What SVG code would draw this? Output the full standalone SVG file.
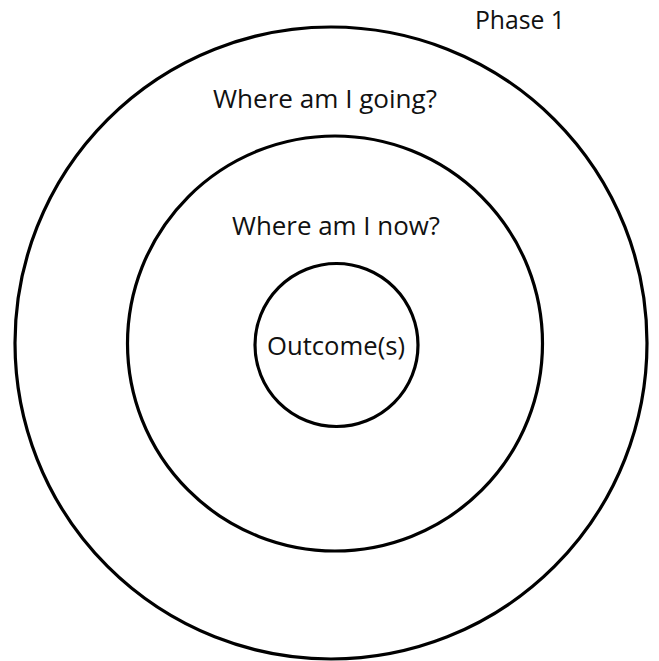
<svg xmlns="http://www.w3.org/2000/svg" width="659" height="661" viewBox="0 0 659 661">
<style>
.ring{fill:none;stroke:#000;stroke-width:3.2}
.lbl{font-family:"Open Sans","Liberation Sans",sans-serif;font-size:25px;fill:#111;text-anchor:middle}
</style>
<rect width="659" height="661" fill="#fff"/>
<g id="connectors"></g>
<g id="phase-label">
<text class="lbl" x="520" y="29" textLength="90" lengthAdjust="spacingAndGlyphs">Phase 1</text>
</g>
<g id="outer-ring">
<circle class="ring" cx="331" cy="343" r="316"/>
<text class="lbl" x="325" y="108" textLength="224" lengthAdjust="spacingAndGlyphs">Where am I going?</text>
</g>
<g id="middle-ring">
<circle class="ring" cx="335" cy="343.5" r="207.5"/>
<text class="lbl" x="336" y="235" textLength="208" lengthAdjust="spacingAndGlyphs">Where am I now?</text>
</g>
<g id="inner-ring">
<circle class="ring" cx="336.5" cy="345" r="81.5"/>
<text class="lbl" x="336" y="355" textLength="138" lengthAdjust="spacingAndGlyphs">Outcome(s)</text>
</g>
</svg>
